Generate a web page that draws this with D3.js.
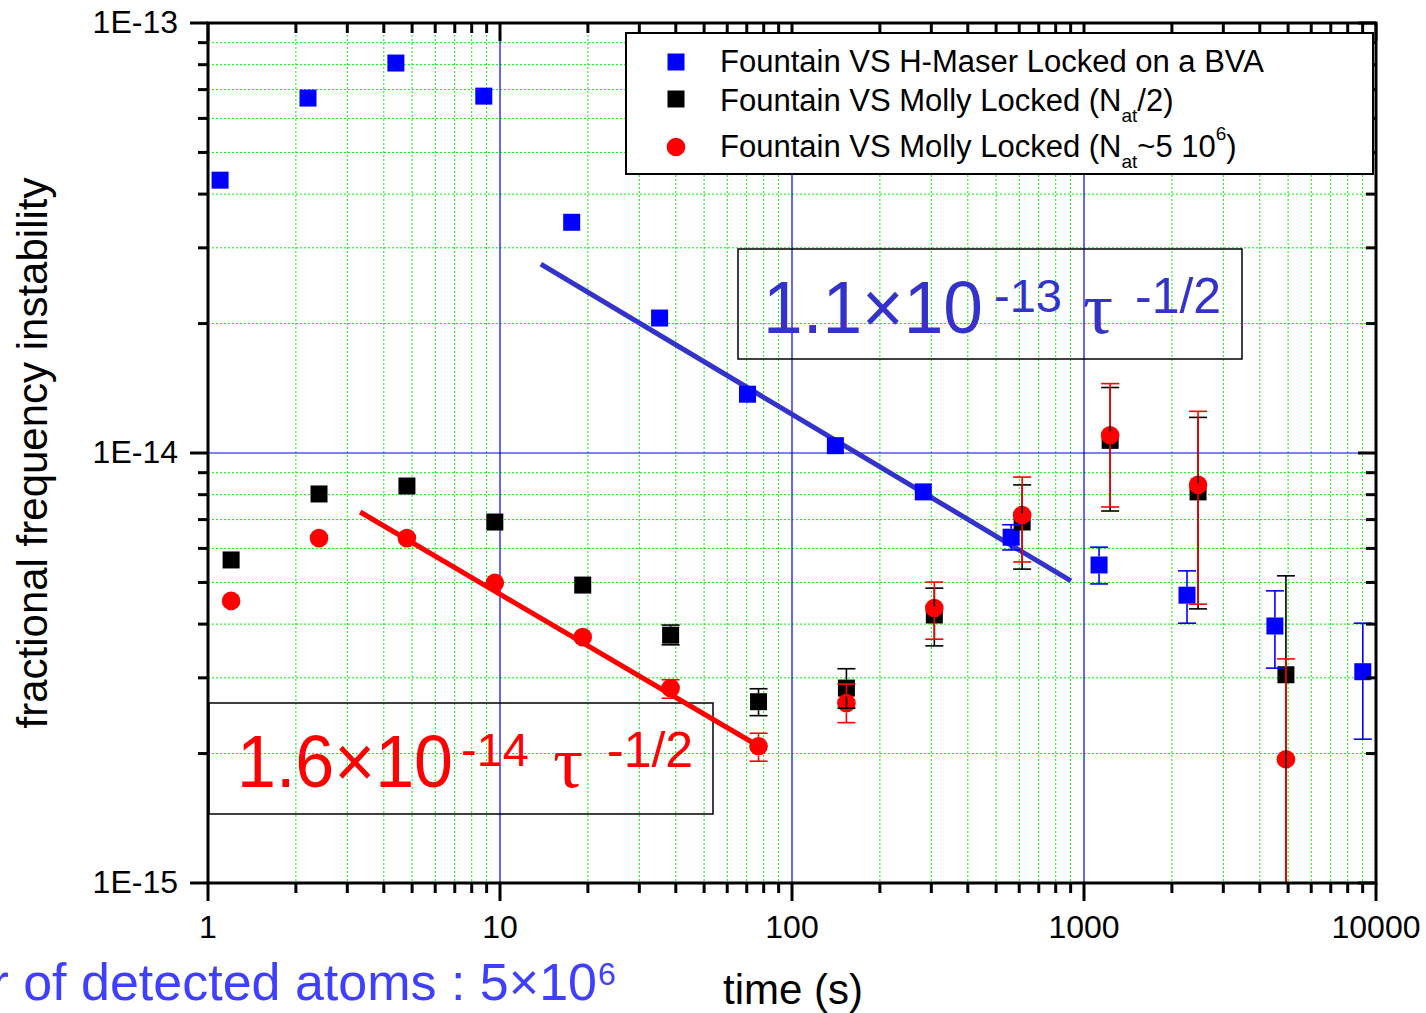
<!DOCTYPE html>
<html>
<head>
<meta charset="utf-8">
<script src="https://cdn.jsdelivr.net/npm/d3@7"></script>
<style>
  body { margin: 0; background: #fff; }
  svg { display: block; font-family: "Liberation Sans", Arial, sans-serif; }
</style>
</head>
<body>
<svg id="chart" width="1426" height="1013"></svg>
<script>
// --- data ---
// Fountain VS H-Maser Locked on a BVA
var maserT  = [1.1, 2.2, 4.4, 8.8, 17.6, 35.2, 70.4, 140.8, 281.6, 563, 1126, 2253, 4506, 9011];
var maserY  = [4.31e-14, 6.69e-14, 8.07e-14, 6.76e-14, 3.44e-14, 2.06e-14, 1.37e-14, 1.04e-14, 8.12e-15, 6.37e-15, 5.49e-15, 4.67e-15, 3.96e-15, 3.10e-15];
var maserLo = [null, null, null, null, null, null, null, null, null, 5.95e-15, 4.96e-15, 4.02e-15, 3.16e-15, 2.16e-15];
var maserHi = [null, null, null, null, null, null, null, null, null, 6.81e-15, 6.04e-15, 5.32e-15, 4.78e-15, 4.02e-15];

// Fountain VS Molly Locked (Nat/2)
var halfT  = [1.2, 2.4, 4.8, 9.6, 19.2, 38.4, 76.8, 153.6, 307.2, 614, 1229, 2458, 4915];
var halfY  = [5.64e-15, 8.03e-15, 8.38e-15, 6.91e-15, 4.93e-15, 3.77e-15, 2.64e-15, 2.84e-15, 4.20e-15, 6.91e-15, 1.07e-14, 8.12e-15, 3.05e-15];
var halfLo = [null, null, null, null, null, 3.58e-15, 2.45e-15, 2.55e-15, 3.56e-15, 5.37e-15, 7.33e-15, 4.34e-15, 5e-16];
var halfHi = [null, null, null, null, null, 3.98e-15, 2.83e-15, 3.15e-15, 4.85e-15, 8.43e-15, 1.42e-14, 1.21e-14, 5.18e-15];

// Fountain VS Molly Locked (Nat~5 10^6)
var fullT  = [1.2, 2.4, 4.8, 9.6, 19.2, 38.4, 76.8, 153.6, 307.2, 614, 1229, 2458, 4915];
var fullY  = [4.53e-15, 6.34e-15, 6.34e-15, 4.99e-15, 3.73e-15, 2.84e-15, 2.08e-15, 2.62e-15, 4.36e-15, 7.17e-15, 1.10e-14, 8.43e-15, 1.94e-15];
var fullLo = [null, null, null, null, null, 2.69e-15, 1.92e-15, 2.36e-15, 3.69e-15, 5.58e-15, 7.49e-15, 4.45e-15, 5e-16];
var fullHi = [null, null, null, null, null, 2.97e-15, 2.23e-15, 2.90e-15, 5.01e-15, 8.79e-15, 1.45e-14, 1.25e-14, 3.32e-15];

// fitted lines (end points)
var fitBlueT = [13.8, 902];
var fitBlueY = [2.75e-14, 5.04e-15];
var fitRedT  = [3.32, 77];
var fitRedY  = [7.29e-15, 2.08e-15];

var xMajor = [1, 10, 100, 1000, 10000];
var yMajor = [1e-15, 1e-14, 1e-13];
var yTickLabels = ["1E-15", "1E-14", "1E-13"];

// --- layout ---
var pL = 208, pR = 1376, pT = 23, pB = 883;
var svg = d3.select("#chart");

var x = d3.scaleLog().domain([1, 10000]).range([pL, pR]);
var y = d3.scaleLog().domain([1e-15, 1e-13]).range([pB, pT]);

// minor values
function minors(decades) {
  var out = [];
  decades.forEach(function(d) {
    for (var k = 2; k <= 9; k++) out.push(d * k);
  });
  return out;
}
var xMinor = minors([1, 10, 100, 1000]);
var yMinor = minors([1e-15, 1e-14]);

svg.append("defs").append("clipPath").attr("id", "plotclip")
  .append("rect").attr("x", pL).attr("y", pT)
  .attr("width", pR - pL).attr("height", pB - pT);

// grid
var grid = svg.append("g");
grid.selectAll(".gx").data(xMinor).enter().append("line")
  .attr("x1", function(d) { return x(d); }).attr("x2", function(d) { return x(d); })
  .attr("y1", pT).attr("y2", pB)
  .attr("stroke", "#00ee00").attr("stroke-width", 1).attr("stroke-dasharray", "2,2");
grid.selectAll(".gy").data(yMinor).enter().append("line")
  .attr("y1", function(d) { return y(d); }).attr("y2", function(d) { return y(d); })
  .attr("x1", pL).attr("x2", pR)
  .attr("stroke", "#00ee00").attr("stroke-width", 1).attr("stroke-dasharray", "2,2");
grid.selectAll(".mx").data([10, 100, 1000]).enter().append("line")
  .attr("x1", function(d) { return x(d); }).attr("x2", function(d) { return x(d); })
  .attr("y1", pT).attr("y2", pB)
  .attr("stroke", "#0000ff").attr("stroke-width", 1.2);
grid.selectAll(".my").data([1e-14]).enter().append("line")
  .attr("y1", function(d) { return y(d); }).attr("y2", function(d) { return y(d); })
  .attr("x1", pL).attr("x2", pR)
  .attr("stroke", "#0000ff").attr("stroke-width", 1.2);

// annotation boxes (transparent)
svg.append("rect").attr("x", 738).attr("y", 249).attr("width", 504).attr("height", 110)
  .attr("fill", "none").attr("stroke", "#000").attr("stroke-width", 1.5);
svg.append("rect").attr("x", 209).attr("y", 703).attr("width", 504).attr("height", 111)
  .attr("fill", "none").attr("stroke", "#000").attr("stroke-width", 1.5);

// fit lines
var line = d3.line().x(function(d) { return x(d[0]); }).y(function(d) { return y(d[1]); });
svg.append("path").datum(d3.zip(fitBlueT, fitBlueY)).attr("d", line)
  .attr("stroke", "#3333cc").attr("stroke-width", 5).attr("fill", "none");
svg.append("path").datum(d3.zip(fitRedT, fitRedY)).attr("d", line)
  .attr("stroke", "#ff0000").attr("stroke-width", 5).attr("fill", "none");

// markers
var marks = svg.append("g").attr("clip-path", "url(#plotclip)");
var sq = 17, rad = 9.3;
function squares(t, v, color) {
  marks.selectAll(null).data(d3.zip(t, v)).enter().append("rect")
    .attr("x", function(d) { return x(d[0]) - sq / 2; })
    .attr("y", function(d) { return y(d[1]) - sq / 2; })
    .attr("width", sq).attr("height", sq).attr("fill", color);
}
squares(maserT, maserY, "#0000ff");
squares(halfT, halfY, "#000000");
marks.selectAll(null).data(d3.zip(fullT, fullY)).enter().append("circle")
  .attr("cx", function(d) { return x(d[0]); })
  .attr("cy", function(d) { return y(d[1]); })
  .attr("r", rad).attr("fill", "#ff0000");

// error bars: start at the marker edge, cap at the end
function errorBars(t, v, lo, hi, color, half) {
  var g = marks.append("g").attr("stroke", color).attr("stroke-width", 1.6).attr("fill", "none");
  t.forEach(function(tt, i) {
    if (lo[i] == null) return;
    var cx = x(tt), cy = y(v[i]);
    var yHi = y(hi[i]), yLo = y(lo[i]);
    if (yHi < cy - half) g.append("line").attr("x1", cx).attr("x2", cx).attr("y1", cy - half).attr("y2", yHi);
    if (yLo > cy + half) g.append("line").attr("x1", cx).attr("x2", cx).attr("y1", cy + half).attr("y2", yLo);
    g.append("line").attr("x1", cx - 9).attr("x2", cx + 9).attr("y1", yHi).attr("y2", yHi);
    g.append("line").attr("x1", cx - 9).attr("x2", cx + 9).attr("y1", yLo).attr("y2", yLo);
  });
}
errorBars(maserT, maserY, maserLo, maserHi, "#0000ff", sq / 2);
errorBars(halfT, halfY, halfLo, halfHi, "#000000", sq / 2);
errorBars(fullT, fullY, fullLo, fullHi, "#ff0000", rad);

// axes
var tickLen = function(d, list) { return list.indexOf(d) >= 0 ? 18 : 10; };
var xAll = xMajor.concat(xMinor);
var yAll = yMajor.concat(yMinor);

var ax = svg.append("g").attr("stroke", "#000").attr("stroke-width", 3);
// bottom (outward) and top (inward)
ax.selectAll(null).data(xAll).enter().append("line")
  .attr("x1", function(d) { return x(d); }).attr("x2", function(d) { return x(d); })
  .attr("y1", pB).attr("y2", function(d) { return pB + tickLen(d, xMajor); });
ax.selectAll(null).data(xAll).enter().append("line")
  .attr("x1", function(d) { return x(d); }).attr("x2", function(d) { return x(d); })
  .attr("y1", pT).attr("y2", function(d) { return pT + tickLen(d, xMajor); });
// left (outward) and right (inward)
ax.selectAll(null).data(yAll).enter().append("line")
  .attr("y1", function(d) { return y(d); }).attr("y2", function(d) { return y(d); })
  .attr("x1", pL).attr("x2", function(d) { return pL - tickLen(d, yMajor); });
ax.selectAll(null).data(yAll).enter().append("line")
  .attr("y1", function(d) { return y(d); }).attr("y2", function(d) { return y(d); })
  .attr("x1", pR).attr("x2", function(d) { return pR - tickLen(d, yMajor); });
svg.append("rect").attr("x", pL).attr("y", pT).attr("width", pR - pL).attr("height", pB - pT)
  .attr("fill", "none").attr("stroke", "#000").attr("stroke-width", 3);

// tick labels
svg.selectAll(null).data(xMajor).enter().append("text")
  .attr("x", function(d) { return x(d); }).attr("y", 938)
  .attr("text-anchor", "middle").attr("font-size", 32)
  .text(function(d) { return d; });
svg.selectAll(null).data(yMajor).enter().append("text")
  .attr("x", 178).attr("y", function(d) { return y(d) + 10; })
  .attr("text-anchor", "end").attr("font-size", 32)
  .text(function(d, i) { return yTickLabels[i]; });

// axis titles
svg.append("text").attr("transform", "translate(47,453) rotate(-90)")
  .attr("text-anchor", "middle").attr("font-size", 42)
  .text("fractional frequency instability");
svg.append("text").attr("x", 793).attr("y", 1004)
  .attr("text-anchor", "middle").attr("font-size", 42).text("time (s)");

// cut-off note at the bottom left
svg.append("text").attr("x", 597).attr("y", 1000).attr("text-anchor", "end")
  .attr("font-size", 52).attr("fill", "#3f3fff").text("Number of detected atoms : 5×10");
svg.append("text").attr("x", 598).attr("y", 985)
  .attr("font-size", 32).attr("fill", "#3f3fff").text("6");

// slope annotations
function slopeLabel(color, x0, base, w, xe, xt, xs, mant, ex) {
  svg.append("text").attr("x", x0).attr("y", base).attr("font-size", 75).attr("fill", color)
    .attr("textLength", w).attr("lengthAdjust", "spacingAndGlyphs").text(mant);
  svg.append("text").attr("x", xe).attr("y", base - 21).attr("font-size", 47).attr("fill", color).text(ex);
  svg.append("text").attr("x", xt).attr("y", base).attr("font-size", 75)
    .attr("font-family", "'Liberation Serif', 'DejaVu Serif', serif").attr("fill", color).text("τ");
  svg.append("text").attr("x", xs).attr("y", base - 20).attr("font-size", 50).attr("fill", color).text("-1/2");
}
slopeLabel("#3333cc", 763, 333, 220, 994, 1083, 1135, "1.1×10", "-13");
slopeLabel("#ff0000", 237, 787, 216, 461, 553, 607, "1.6×10", "-14");

// legend
var lg = svg.append("g");
lg.append("rect").attr("x", 626).attr("y", 33).attr("width", 747).attr("height", 141)
  .attr("fill", "#fff").attr("stroke", "#000").attr("stroke-width", 2);
lg.append("rect").attr("x", 676 - 8.5).attr("y", 62 - 8.5).attr("width", 17).attr("height", 17).attr("fill", "#0000ff");
lg.append("rect").attr("x", 676 - 8.5).attr("y", 99 - 8.5).attr("width", 17).attr("height", 17).attr("fill", "#000");
lg.append("circle").attr("cx", 676).attr("cy", 147).attr("r", 9.3).attr("fill", "#ff0000");
lg.append("text").attr("x", 720).attr("y", 72).attr("font-size", 31).text("Fountain VS H-Maser Locked on a BVA");
var t2 = lg.append("text").attr("x", 720).attr("y", 111).attr("font-size", 31);
t2.append("tspan").text("Fountain VS Molly Locked (N");
t2.append("tspan").attr("font-size", 19).attr("dy", 11).text("at");
t2.append("tspan").attr("dy", -11).text("/2)");
var t3 = lg.append("text").attr("x", 720).attr("y", 157).attr("font-size", 31);
t3.append("tspan").text("Fountain VS Molly Locked (N");
t3.append("tspan").attr("font-size", 19).attr("dy", 11).text("at");
t3.append("tspan").attr("dy", -11).text("~5 10");
t3.append("tspan").attr("font-size", 19).attr("dy", -17).text("6");
t3.append("tspan").attr("dy", 17).text(")");
</script>
</body>
</html>
